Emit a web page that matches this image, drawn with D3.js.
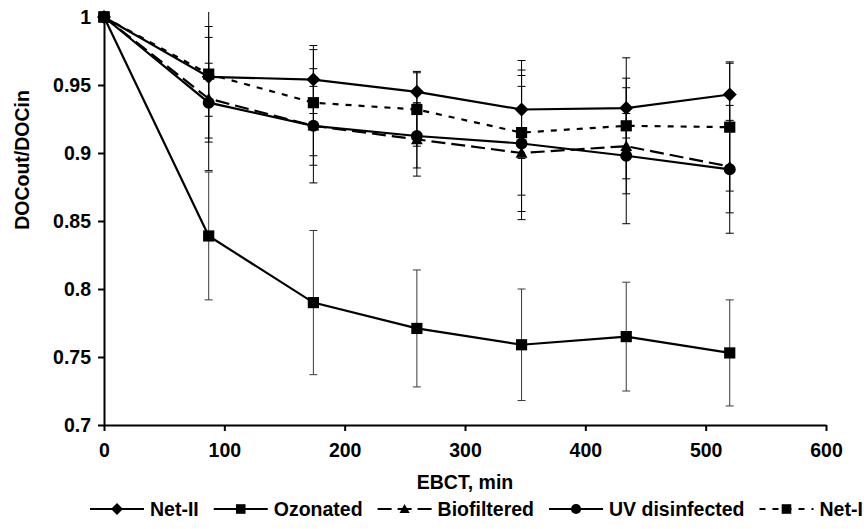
<!DOCTYPE html>
<html>
<head>
<meta charset="utf-8">
<script src="https://cdn.jsdelivr.net/npm/d3@7"></script>
<style>
  body { margin: 0; background: #fff; }
  svg { display: block; font-family: "Liberation Sans", Arial, sans-serif; }
  text { font-weight: bold; fill: #000; }
</style>
</head>
<body>
<div id="chart"></div>
<script>
// data
const ebct = [0, 87, 174, 260, 347, 434, 520]
const seriesNames = ['Net-II', 'Ozonated', 'Biofiltered', 'UV disinfected', 'Net-I']
const netII = [1, 0.956, 0.954, 0.945, 0.932, 0.933, 0.943]
const netIIErr = [0, 0.029, 0.025, 0.015, 0.036, 0.022, 0.024]
const ozonated = [1, 0.839, 0.790, 0.771, 0.759, 0.765, 0.753]
const ozonatedErr = [0, 0.047, 0.053, 0.043, 0.041, 0.040, 0.039]
const biofiltered = [1, 0.940, 0.920, 0.910, 0.900, 0.905, 0.890]
const biofilteredErr = [0, 0.053, 0.029, 0.027, 0.049, 0.024, 0.034]
const uvDisinfected = [1, 0.937, 0.920, 0.9125, 0.907, 0.898, 0.888]
const uvDisinfectedErr = [0, 0.029, 0.042, 0.0235, 0.050, 0.050, 0.047]
const netI = [1, 0.958, 0.937, 0.932, 0.915, 0.920, 0.919]
const netIErr = [0, 0.047, 0.039, 0.027, 0.046, 0.050, 0.047]
const xTicks = [0, 100, 200, 300, 400, 500, 600]
const yTicks = [0.7, 0.75, 0.8, 0.85, 0.9, 0.95, 1]

const width = 864, height = 529
const margin = {top: 17, right: 38, bottom: 104, left: 104}
const innerWidth = width - margin.left - margin.right
const innerHeight = height - margin.top - margin.bottom
const fontSize = '19.5px'

// marker shapes, excel-like
const diamond = {draw(ctx, s) { const r = s; ctx.moveTo(0, -r); ctx.lineTo(r, 0); ctx.lineTo(0, r); ctx.lineTo(-r, 0); ctx.closePath() }}
const square = {draw(ctx, s) { const r = s * 0.8; ctx.rect(-r, -r, 2 * r, 2 * r) }}
const triangle = {draw(ctx, s) { const r = s * 0.85; ctx.moveTo(0, -r); ctx.lineTo(r, r * 0.8); ctx.lineTo(-r, r * 0.8); ctx.closePath() }}
const circle = {draw(ctx, s) { const r = s * 0.85; ctx.moveTo(r, 0); ctx.arc(0, 0, r, 0, 2 * Math.PI) }}

const seriesVals = [netII, ozonated, biofiltered, uvDisinfected, netI]
const seriesErrs = [netIIErr, ozonatedErr, biofilteredErr, uvDisinfectedErr, netIErr]
const seriesShape = [diamond, square, triangle, circle, square]
const seriesDash = [null, null, '14,6', null, '6,7']
const errColor = ['#000', '#3a3a3a', '#000', '#000', '#000']

const series = seriesNames.map((name, i) => ({
    name: name,
    shape: seriesShape[i],
    dash: seriesDash[i],
    errColor: errColor[i],
    values: ebct.map((x, j) => ({x: x, y: seriesVals[i][j], e: seriesErrs[i][j]}))
}))

const svg = d3.select('#chart').append('svg').attr('width', width).attr('height', height)

const xScale = d3.scaleLinear().domain([0, 600]).range([0, innerWidth])
const yScale = d3.scaleLinear().domain([0.7, 1]).range([innerHeight, 0])

const chartGroup = svg.append('g').attr('transform', `translate(${margin.left},${margin.top})`)

svg.append('defs').append('clipPath').attr('id', 'clip')
    .append('rect').attr('x', -10).attr('y', -5).attr('width', innerWidth + 20).attr('height', innerHeight + 5)

// axes
const xAxis = d3.axisBottom(xScale).tickValues(xTicks).tickSize(6).tickSizeOuter(0).tickPadding(12)
const yAxis = d3.axisLeft(yScale).tickValues(yTicks).tickSize(6).tickSizeOuter(0).tickPadding(7)
    .tickFormat(d => String(+d.toFixed(2)))

const gx = chartGroup.append('g').attr('transform', `translate(0,${innerHeight})`).call(xAxis)
const gy = chartGroup.append('g').call(yAxis)
;[gx, gy].forEach(g => {
    g.attr('font-size', null).attr('font-family', null)
    g.select('.domain').attr('stroke', '#000').attr('stroke-width', 2)
    g.selectAll('.tick line').attr('stroke', '#000').attr('stroke-width', 2)
    g.selectAll('.tick text').style('font-size', fontSize).attr('fill', '#000')
})

// axis titles
svg.append('text')
    .attr('x', margin.left + innerWidth / 2).attr('y', 489)
    .style('font-size', fontSize).style('text-anchor', 'middle')
    .text('EBCT, min')

svg.append('text')
    .attr('transform', 'translate(29,160) rotate(-90)')
    .style('font-size', fontSize).style('text-anchor', 'middle')
    .text('DOCout/DOCin')

// error bars
const errGroup = chartGroup.append('g').attr('clip-path', 'url(#clip)')
series.forEach(s => {
    const pts = s.values.filter(d => d.e > 0)
    const g = errGroup.append('g').attr('stroke', s.errColor).attr('stroke-width', 1)
    g.selectAll('.ebar').data(pts).join('line').attr('class', 'ebar')
        .attr('x1', d => xScale(d.x)).attr('x2', d => xScale(d.x))
        .attr('y1', d => yScale(d.y + d.e)).attr('y2', d => yScale(d.y - d.e))
    ;[1, -1].forEach(sign => {
        g.selectAll(null).data(pts).join('line')
            .attr('x1', d => xScale(d.x) - 4).attr('x2', d => xScale(d.x) + 4)
            .attr('y1', d => yScale(d.y + sign * d.e)).attr('y2', d => yScale(d.y + sign * d.e))
    })
})

// lines and markers
const line = d3.line().x(d => xScale(d.x)).y(d => yScale(d.y))
series.forEach(s => {
    chartGroup.append('path')
        .datum(s.values)
        .attr('d', line)
        .attr('fill', 'none')
        .attr('stroke', '#000')
        .attr('stroke-width', 2.2)
        .attr('stroke-dasharray', s.dash)
    chartGroup.selectAll(null)
        .data(s.values)
        .join('path')
        .attr('transform', d => `translate(${xScale(d.x)},${yScale(d.y)})`)
        .attr('d', d3.symbol().type(s.shape).size(7))
        .attr('fill', '#000')
})

// legend
const legend = svg.append('g').attr('transform', 'translate(90,509)')
let lx = 0
series.forEach(s => {
    const item = legend.append('g').attr('transform', `translate(${lx},0)`)
    item.append('line').attr('x1', 0).attr('x2', 54).attr('y1', 0).attr('y2', 0)
        .attr('stroke', '#000').attr('stroke-width', 2.2).attr('stroke-dasharray', s.dash)
    item.append('path').attr('transform', 'translate(27,0)')
        .attr('d', d3.symbol().type(s.shape).size(6)).attr('fill', '#000')
    const t = item.append('text').attr('x', 60).attr('y', 7)
        .style('font-size', fontSize).text(s.name)
    lx += 60 + t.node().getComputedTextLength() + 15
})
</script>
</body>
</html>
